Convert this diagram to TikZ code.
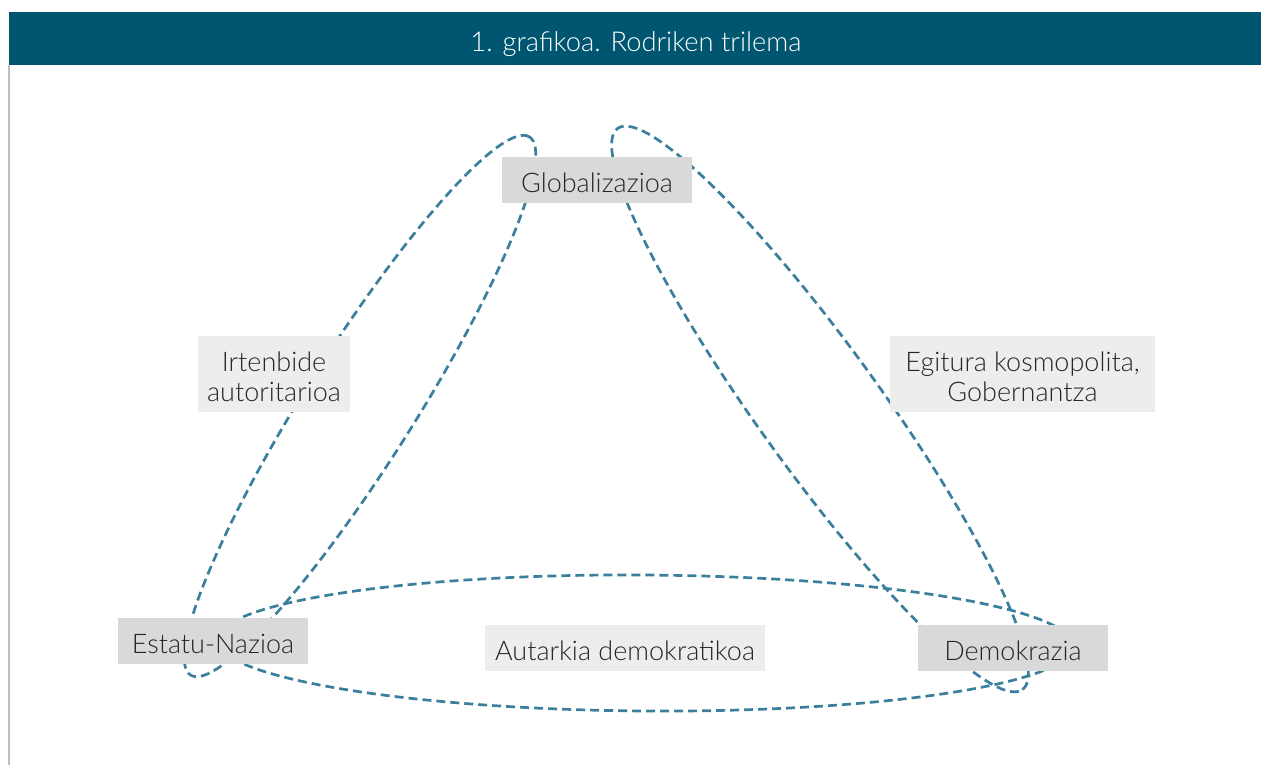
\documentclass[tikz,border=0pt]{standalone}
\usepackage{fontspec}
\setmainfont{Lato}[UprightFont=* Light]
\definecolor{headblue}{HTML}{005670}
\definecolor{ringblue}{HTML}{3A809C}
\definecolor{boxdark}{HTML}{D9D9D9}
\definecolor{boxlight}{HTML}{EDEDED}
\definecolor{txt}{HTML}{262626}
\definecolor{frame}{HTML}{BFBFBF}
\tikzset{
  ring/.style={draw=ringblue, line width=2.7pt, dash pattern=on 9pt off 5pt},
  corebox/.style={fill=boxdark, inner sep=0pt, minimum width=190pt, minimum height=46pt},
  pairbox/.style={fill=boxlight, inner sep=0pt, minimum height=76pt},
  boxtext/.style={text=txt, inner sep=0pt, align=center, yshift=-3pt, font=\fontsize{27}{30}\selectfont},
}
\begin{document}
\begin{tikzpicture}[x=1pt,y=-1pt]
\useasboundingbox (0,0) rectangle (1261,765);
\fill[white] (0,0) rectangle (1261,765);
% header
\fill[headblue] (9,12) rectangle (1261,65);
\draw[frame, line width=1.5pt] (9,65) -- (9,765);
\node[text=white, font=\fontsize{27.3}{30}\selectfont] (title) at (636,44) {1. grafikoa. Rodriken trilema};
% rings
\draw[ring] (360,406) ellipse [x radius=318pt, y radius=55pt, rotate=57.8];
\draw[ring] (820,409) ellipse [x radius=346pt, y radius=61pt, rotate=-54.2];
\draw[ring] (645,643) ellipse [x radius=428pt, y radius=68pt, rotate=-0.4];
% boxes
\node[corebox] (glob) at (597,180) {};
\node[boxtext] (globt) at (glob.center) {Globalizazioa};
\node[corebox] (estatu) at (213,641) {};
\node[boxtext] (estatut) at (estatu.center) {Estatu-Nazioa};
\node[corebox] (demo) at (1013,648) {};
\node[boxtext] (demot) at (demo.center) {Demokrazia};
\node[pairbox, minimum width=152pt] (irten) at (274,374) {};
\node[boxtext] (irtent) at (irten.center) {Irtenbide\\autoritarioa};
\node[pairbox, minimum width=265pt] (egit) at (1022.5,374) {};
\node[boxtext] (egitt) at (egit.center) {Egitura kosmopolita,\\Gobernantza};
\node[pairbox, minimum width=280pt, minimum height=46pt] (autar) at (625,648) {};
\node[boxtext] (autart) at (autar.center) {Autarkia demokratikoa};
\end{tikzpicture}
\end{document}
